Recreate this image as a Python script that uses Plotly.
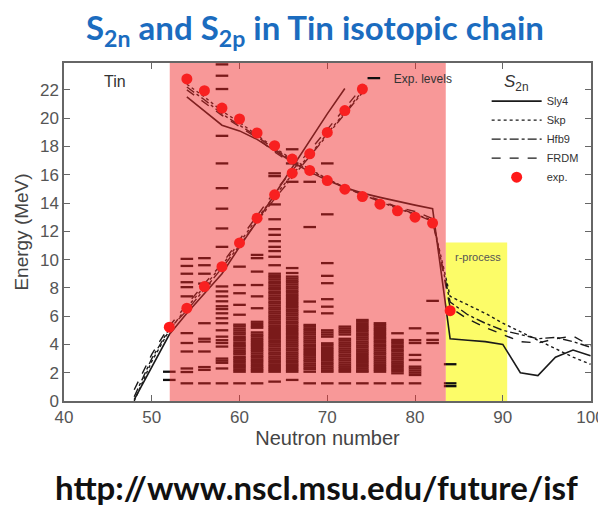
import plotly.graph_objects as go

# ---------------- data ----------------
# experimental two-neutron separation energies S2n (MeV)
n_s2n_exp = [54, 56, 58, 60, 62, 64, 66, 68, 70, 72, 74, 76, 78, 80, 82, 84]
s2n_exp = [22.77, 21.94, 20.71, 19.94, 18.95, 18.05, 17.11, 16.30, 15.59, 14.98,
           14.46, 13.92, 13.45, 13.00, 12.58, 6.39]
# experimental two-proton separation energies S2p (MeV)
n_s2p_exp = [52, 54, 56, 58, 60, 62, 64, 66, 68, 70, 72, 74]
s2p_exp = [5.22, 6.56, 8.09, 9.50, 11.18, 12.93, 14.58, 16.11, 17.48, 18.99, 20.54, 22.06]

# theory S2n
n_s2n_th = [54, 56, 58, 60, 62, 64, 66, 68, 70, 72, 74, 76, 78, 80, 82,
            84, 86, 88, 90, 92, 94, 96, 98, 100]
s2n_sly4 = [21.5, 20.5, 19.5, 19.1, 18.5, 17.7, 16.9, 16.2, 15.6, 15.1, 14.7, 14.4,
            14.1, 13.85, 13.6, 4.4, 4.3, 4.2, 4.0, 2.0, 1.8, 3.1, 3.6, 3.2]
s2n_skp = [22.4, 21.5, 20.5, 19.7, 18.8, 17.9, 17.1, 16.4, 15.7, 15.1, 14.6, 14.1,
           13.6, 13.2, 12.8, 7.4, 6.8, 6.2, 5.5, 4.9, 4.3, 3.7, 3.1, 2.6]
s2n_hfb9 = [22.2, 21.3, 20.3, 19.5, 18.7, 17.8, 17.0, 16.3, 15.7, 15.1, 14.6, 14.1,
            13.7, 13.2, 12.7, 7.0, 6.1, 5.5, 5.0, 4.7, 4.4, 4.5, 4.2, 3.8]
s2n_frdm = [22.0, 21.1, 20.2, 19.4, 18.6, 17.6, 16.8, 16.2, 15.6, 15.1, 14.6, 14.2,
            13.7, 13.4, 12.9, 6.6, 5.8, 5.2, 4.7, 4.2, 4.1, 4.4, 4.6, 3.9]

# theory S2p
n_s2p_th = [48, 50, 52, 54, 56, 58, 60, 62, 64, 66, 68, 70, 72, 74]
s2p_sly4 = [0.1, 2.4, 4.7, 6.2, 7.6, 9.0, 10.9, 12.7, 14.6, 16.5, 18.4, 20.3, 22.1, None]
s2p_skp = [0.0, 2.8, 5.0, 6.6, 8.1, 9.6, 11.2, 12.9, 14.5, 16.0, 17.4, 18.9, 20.4, 21.9]
s2p_hfb9 = [0.3, 3.0, 5.1, 6.4, 7.9, 9.4, 11.0, 12.7, 14.3, 15.8, 17.3, 18.8, 20.3, 21.8]
s2p_frdm = [0.8, 3.3, 5.3, 6.8, 8.3, 9.7, 11.4, 13.1, 14.8, 16.3, 17.7, 19.2, 20.7, 22.2]

# experimental excited levels (MeV) for each neutron number
levels = {
    52: [2.07, 1.49],
    54: [10.05, 9.55, 9.0, 8.4, 8.05, 7.4, 4.8, 4.1, 3.5, 2.3, 2.05, 1.25],
    56: [10.1, 9.6, 9.0, 8.3, 5.5, 4.4, 4.2, 3.5, 2.4, 2.2, 1.25],
    58: [23.8, 23.0, 22.06, 18.75, 16.8, 15.05, 13.6, 12.2, 10.9, 8.1, 7.75, 7.4,
         7.05, 6.7, 6.5, 6.2, 5.85, 5.5, 5.0, 4.55, 4.3, 4.1, 3.85, 3.0, 2.85, 2.7,
         2.3, 1.25],
    60: [9.5, 8.2, 7.62, 6.8, 6.1, 5.4, 5.28, 5.12, 4.98, 4.83, 4.7, 4.52, 4.4,
         4.27, 4.1, 3.95, 3.85, 3.7, 3.55, 3.42, 3.3, 3.12, 3.0, 2.88, 2.75, 2.6,
         2.47, 2.35, 2.2, 2.07, 1.25],
    62: [10.33, 10.1, 9.15, 8.2, 7.4, 6.56, 5.6, 5.45, 5.3, 5.18, 4.85, 4.7, 4.58,
         4.43, 4.3, 4.16, 4.02, 3.9, 3.75, 3.62, 3.5, 3.36, 3.22, 3.1, 2.95, 2.83,
         2.7, 2.55, 2.42, 2.3, 2.18, 2.07, 1.25],
    64: [16.1, 15.9, 13.9, 12.85, 12.15, 11.75, 11.3, 10.9, 10.6, 10.2, 9.6, 9.0,
         8.85, 8.72, 8.58, 8.42, 8.3, 8.15, 8.0, 7.88, 7.72, 7.6, 7.45, 7.3, 7.18,
         7.02, 6.9, 6.75, 6.6, 6.48, 6.33, 6.2, 6.05, 5.92, 5.78, 5.63, 5.5, 5.35,
         5.22, 5.08, 4.95, 4.8, 4.66, 4.52, 4.4, 4.25, 4.12, 3.98, 3.85, 3.7, 3.57,
         3.42, 3.3, 3.15, 3.02, 2.88, 2.75, 2.6, 2.47, 2.33, 2.2, 2.07, 1.37],
    66: [17.8, 16.8, 15.5, 9.4, 9.05, 8.8, 8.66, 8.52, 8.4, 8.25, 8.1, 7.97, 7.82,
         7.7, 7.55, 7.42, 7.28, 7.15, 7.0, 6.87, 6.72, 6.6, 6.45, 6.32, 6.18, 6.05,
         5.9, 5.77, 5.62, 5.5, 5.35, 5.22, 5.08, 4.95, 4.8, 4.68, 4.53, 4.4, 4.26,
         4.12, 3.98, 3.85, 3.7, 3.58, 3.43, 3.3, 3.16, 3.02, 2.88, 2.75, 2.6, 2.48,
         2.33, 2.2, 2.07, 1.49],
    68: [15.5, 12.3, 7.03, 6.32, 5.38, 5.25, 5.1, 4.97, 4.83, 4.7, 4.55, 4.42,
         4.28, 4.15, 4.0, 3.88, 3.73, 3.6, 3.46, 3.33, 3.2, 3.06, 2.92, 2.8, 2.65,
         2.52, 2.38, 2.25, 2.07, 1.25],
    70: [16.8, 13.2, 9.75, 8.85, 8.33, 7.2, 6.67, 6.2, 5.0, 4.85, 4.7, 4.55, 4.08,
         3.95, 3.8, 3.67, 3.53, 3.4, 3.26, 3.12, 2.98, 2.85, 2.7, 2.57, 2.43, 2.3,
         2.17, 2.07, 1.25],
    72: [5.26, 5.12, 4.98, 4.85, 4.7, 4.4, 4.27, 4.12, 3.98, 3.85, 3.7, 3.56, 3.43,
         3.28, 3.15, 3.0, 2.87, 2.72, 2.58, 2.45, 2.32, 2.18, 2.07, 1.25],
    74: [5.73, 5.6, 5.45, 5.3, 5.17, 5.03, 4.9, 4.75, 4.62, 4.48, 4.35, 4.2, 4.07,
         3.93, 3.8, 3.65, 3.52, 3.38, 3.25, 3.1, 2.97, 2.83, 2.7, 2.55, 2.42, 2.28,
         2.15, 2.07, 1.25],
    76: [5.5, 5.37, 5.22, 5.08, 4.95, 4.8, 4.67, 4.52, 4.4, 4.25, 4.12, 3.97, 3.84,
         3.7, 3.56, 3.42, 3.3, 3.15, 3.02, 2.88, 2.74, 2.6, 2.47, 2.33, 2.2, 2.07,
         1.25],
    78: [4.79, 4.32, 4.18, 4.05, 3.9, 3.77, 3.62, 3.5, 3.35, 3.22, 3.08, 2.95, 2.8,
         2.67, 2.53, 2.4, 2.25, 2.12, 1.96, 1.25],
    80: [5.14, 4.3, 4.1, 3.26, 2.9, 2.43, 2.3, 2.15, 2.0, 1.84, 1.25],
    82: [7.08, 4.79, 4.32, 4.1],
    84: [2.6, 1.25, 1.05],
}

# highlighted regions (neutron number, energy)
known_region = [52.05, 83.5]
rprocess_region = [83.5, 90.5]
rprocess_top = 11.2

# ---------------- figure ----------------
fig = go.Figure()

lvl_x, lvl_y = [], []
for n, es in levels.items():
    for e in es:
        lvl_x.append(n)
        lvl_y.append(e)

fig.add_trace(go.Scatter(
    x=lvl_x, y=lvl_y, mode="markers", name="Exp. levels",
    marker=dict(symbol="line-ew", size=9, color="#0f0f0f",
                line=dict(width=2.3, color="#0f0f0f")),
    legend="legend2", showlegend=True, hoverinfo="skip"))

line_col = "#1a1a1a"
styles = [
    ("Sly4", s2n_sly4, s2p_sly4, "solid", 1.6),
    ("Skp", s2n_skp, s2p_skp, "dot", 1.4),
    ("Hfb9", s2n_hfb9, s2p_hfb9, "dashdot", 1.4),
    ("FRDM", s2n_frdm, s2p_frdm, "dash", 1.4),
]
for name, yn, yp, dash, w in styles:
    fig.add_trace(go.Scatter(
        x=n_s2n_th, y=yn, mode="lines", name=name, legendgroup=name,
        line=dict(color=line_col, width=w, dash=dash)))
    fig.add_trace(go.Scatter(
        x=n_s2p_th, y=yp, mode="lines", name=name, legendgroup=name,
        showlegend=False, connectgaps=False,
        line=dict(color=line_col, width=w, dash=dash)))

fig.add_trace(go.Scatter(
    x=n_s2n_exp, y=s2n_exp, mode="markers", name="exp.", legendgroup="exp",
    marker=dict(color="#ff1a1a", size=11)))
fig.add_trace(go.Scatter(
    x=n_s2p_exp, y=s2p_exp, mode="markers", name="exp.", legendgroup="exp",
    showlegend=False, marker=dict(color="#ff1a1a", size=11)))

shapes = [
    dict(type="rect", xref="x", yref="y", x0=rprocess_region[0], x1=rprocess_region[1],
         y0=0, y1=rprocess_top, fillcolor="#fcfc68", line=dict(width=0), layer="below"),
    dict(type="rect", xref="x", yref="paper", x0=known_region[0], x1=known_region[1],
         y0=0, y1=1, fillcolor="rgba(241,40,40,0.48)", line=dict(width=0), layer="above"),
]

annotations = [
    dict(text="S<sub>2n</sub> and S<sub>2p</sub> in Tin isotopic chain", xref="paper", yref="paper",
         x=0.476, y=1.098, xanchor="center", yanchor="middle", showarrow=False,
         font=dict(family="Lato", size=33, color="#1b6cbf", weight="bold")),
    dict(text="http://www.nscl.msu.edu/future/isf", xref="paper", yref="paper",
         x=0.480, y=-0.255, xanchor="center", yanchor="middle", showarrow=False,
         font=dict(family="Lato", size=33, color="#111111", weight="bold")),
    dict(text="Tin", xref="x", yref="y", x=45.8, y=22.6, showarrow=False,
         font=dict(family="Liberation Sans", size=16, color="#333")),
    dict(text="r-process", xref="x", yref="y", x=87.2, y=10.2, showarrow=False,
         font=dict(family="Liberation Sans", size=11, color="#555")),
    dict(text="<i>S</i><sub>2n</sub>", xref="paper", yref="paper", x=0.887, y=0.978,
         showarrow=False, font=dict(family="Liberation Sans", size=17, color="#333")),
]

fig.update_layout(
    width=598, height=506,
    margin=dict(l=64, r=7, t=63, b=105, autoexpand=False),
    paper_bgcolor="white", plot_bgcolor="white",
    font=dict(family="Liberation Sans", color="#444"),
    shapes=shapes, annotations=annotations,
    legend=dict(x=0.802, y=0.93, xanchor="left", yanchor="top",
                bgcolor="rgba(0,0,0,0)", font=dict(size=11, color="#333"),
                itemwidth=50, tracegroupgap=0),
    legend2=dict(x=0.55, y=0.998, xanchor="left", yanchor="top",
                 bgcolor="rgba(0,0,0,0)", font=dict(size=12, color="#333"),
                 itemwidth=30),
    showlegend=True,
)
fig.update_xaxes(range=[40, 100.05], tickvals=[40, 50, 60, 70, 80, 90, 100],
                 ticks="inside", ticklen=6, tickcolor="#666", mirror="ticks",
                 showline=True, linecolor="#666", linewidth=1.5, showgrid=False,
                 zeroline=False, tickfont=dict(size=17, color="#555"),
                 ticklabeloverflow="allow", automargin=False,
                 title=dict(text="Neutron number", font=dict(size=20, color="#444"), standoff=4))
fig.update_yaxes(range=[0, 23.9], tickvals=list(range(0, 23, 2)),
                 ticks="inside", ticklen=6, tickcolor="#666", mirror="ticks",
                 showline=True, linecolor="#666", linewidth=1.5, showgrid=False,
                 zeroline=False, tickfont=dict(size=17, color="#555"), automargin=False,
                 title=dict(text="Energy (MeV)", font=dict(size=19, color="#444"), standoff=6))

fig.write_html("out.html")
